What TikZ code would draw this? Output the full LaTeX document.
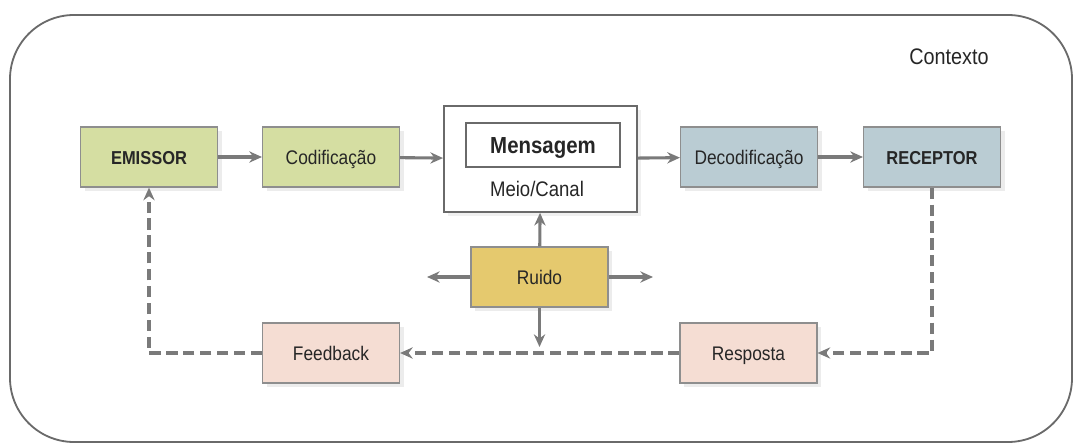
\documentclass[tikz,border=0pt]{standalone}
\usepackage{fontspec}
\setmainfont[FakeStretch=0.88]{Liberation Sans}
\usetikzlibrary{arrows.meta,shadows}

\definecolor{emgreen}{HTML}{D5DEA2}
\definecolor{recblue}{HTML}{BACCD3}
\definecolor{noiseyellow}{HTML}{E5C96E}
\definecolor{fbpink}{HTML}{F5DDD3}
\definecolor{boxgray}{HTML}{8E8E8E}
\definecolor{arrgray}{HTML}{7A7A7A}
\definecolor{framegray}{HTML}{6A6A6A}
\definecolor{txtgray}{HTML}{262626}

\tikzset{
  box/.style={draw=boxgray, line width=0.9pt, minimum width=3.42cm,
    minimum height=1.5cm, inner sep=0pt, text=txtgray,
    text height=10pt, text depth=0pt,
    font=\fontsize{14}{16}\selectfont,
    drop shadow={opacity=0.15, shadow xshift=3pt, shadow yshift=-3pt}},
  boldbox/.style={box, font=\bfseries\fontsize{13.3}{15}\selectfont},
  arr/.style={draw=arrgray, line width=2.2pt, -{Stealth[length=9pt,width=8pt]}},
  dsh/.style={arr, dash pattern=on 8pt off 4pt},
}

\begin{document}
\begin{tikzpicture}[x=0.025cm, y=-0.025cm]
    \useasboundingbox (0,0) rectangle (1075,444);
    \draw[framegray, line width=1.3pt, rounded corners=1.6cm] (10,15) rectangle (1072,442);
    \node[text=txtgray, font=\fontsize{16}{18}\selectfont] (ctx) at (949,57) {Contexto};

    % upper chain
    \node[boldbox, fill=emgreen] (em) at (149,157) {EMISSOR};
    \node[box, fill=emgreen] (cod) at (331,157) {Codificação};
    \node[draw=framegray, fill=white, line width=1.2pt, minimum width=4.83cm,
      minimum height=2.65cm, inner sep=0pt,
      drop shadow={opacity=0.12, shadow xshift=3pt, shadow yshift=-3pt}] (meio) at (540.5,159) {};
    \node[draw=framegray, line width=1.1pt, minimum width=3.85cm, minimum height=1.1cm,
      inner sep=0pt, text=txtgray, text height=12pt, text depth=0pt,
      font=\bfseries\fontsize{16.5}{18}\selectfont] (msg) at (543,145) {Mensagem};
    \node[text=txtgray, font=\fontsize{15}{17}\selectfont] (canal) at (537,189) {Meio/Canal};
    \node[box, fill=recblue] (dec) at (749,157) {Decodificação};
    \node[boldbox, fill=recblue] (rec) at (932,157) {RECEPTOR};

    % noise
    \node[box, fill=noiseyellow] (ru) at (539.5,277) {Ruido};
    \coordinate (nl) at (427,277);
    \coordinate (nr) at (653,277);
    \coordinate (nd) at (539.5,347);

    % return path
    \node[box, fill=fbpink] (fb) at (331,353) {Feedback};
    \node[box, fill=fbpink] (resp) at (748.5,353) {Resposta};

    \draw[arr] (em) -- (cod);
    \draw[arr] (cod) -- (meio);
    \draw[arr] (meio) -- (dec);
    \draw[arr] (dec) -- (rec);

    \draw[arr] (ru) -- (meio);
    \draw[arr] (ru) -- (nl);
    \draw[arr] (ru) -- (nr);
    \draw[arr] (ru) -- (nd);

    \draw[dsh] (rec.south) |- (resp.east);
    \draw[dsh] (resp) -- (fb);
    \draw[dsh] (fb.west) -| (em.south);
\end{tikzpicture}
\end{document}
